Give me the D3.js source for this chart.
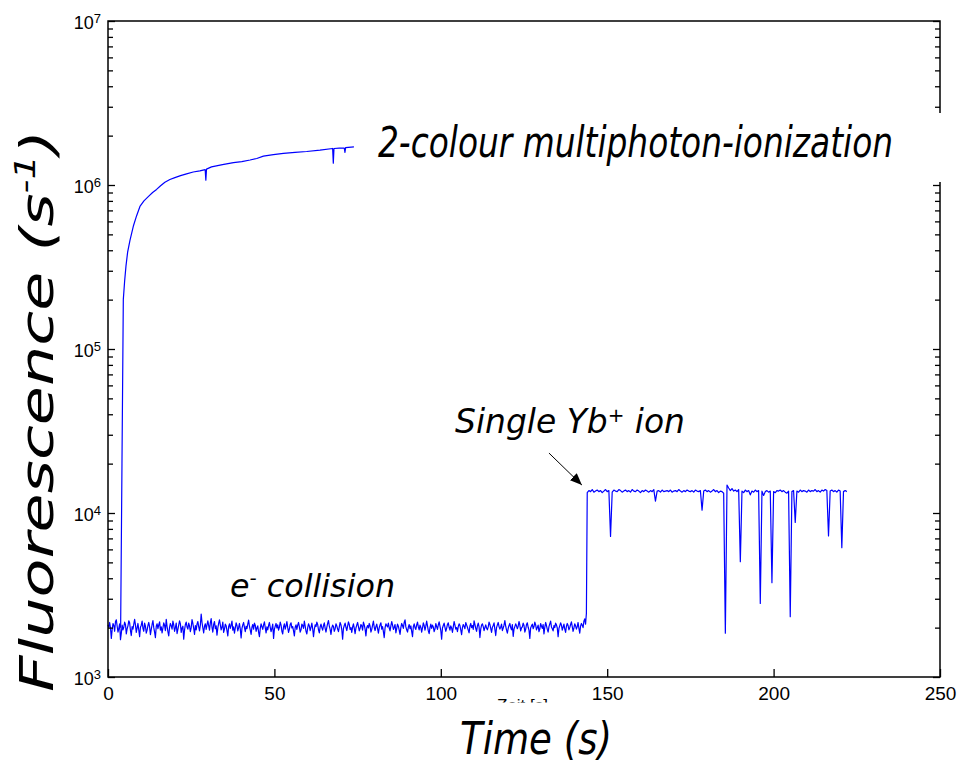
<!DOCTYPE html>
<html>
<head>
<meta charset="utf-8">
<script src="https://cdn.jsdelivr.net/npm/d3@7"></script>
<style>
  body { margin: 0; background: #fff; }
  svg { display: block; }
</style>
</head>
<body>
<script>
// ---- data ----
// photo-ionization trace (s, counts/s)
const mpiTime = [3.8, 4.2, 4.6, 5.0, 5.4, 5.9, 6.6, 7.6, 8.6, 9.6,
  10.8, 12.1, 13.4, 14.6, 15.8, 17.1, 18.6, 20.1, 21.8, 23.6,
  25.6, 27.6, 29.2, 29.4, 29.6, 31.1, 34.4, 37.7, 40.2, 42.7,
  44.7, 46.7, 49.7, 52.7, 56.2, 59.7, 63.7, 67.5, 67.7, 67.9,
  69.5, 71.0, 71.2, 71.4, 73.9];
const mpiRate = [2000, 20000, 200000, 260000, 320000, 390000, 460000, 560000, 650000, 740000,
  800000, 850000, 900000, 940000, 990000, 1040000, 1080000, 1110000, 1140000, 1170000,
  1200000, 1220000, 1240000, 1070000, 1250000, 1290000, 1330000, 1370000, 1390000, 1420000,
  1450000, 1500000, 1530000, 1560000, 1580000, 1600000, 1630000, 1670000, 1360000, 1670000,
  1680000, 1680000, 1580000, 1690000, 1710000];

// electron collision trace, sampled every 0.25 s from t = 0
const collisionStep = 0.25;
const collisionStart = 0;
const collisionRate = [
  2080, 2010, 2150, 1990, 1720, 1950, 2120, 2060, 1900, 2180, 2230, 2040,
  1880, 1980, 2110, 1690, 1850, 2070, 1940, 2010, 2160, 2090, 1830, 1970,
  2050, 2200, 2140, 1920, 1790, 2030, 1960, 2100, 2250, 2080, 1870, 1990,
  2120, 1940, 1760, 2010, 2070, 2190, 1980, 1900, 2130, 2040, 1850, 1930,
  2060, 2150, 2020, 1810, 1950, 2090, 2210, 2000, 1880, 1740, 2040, 2110,
  1970, 2080, 2170, 1930, 2020, 1860, 1990, 2140, 2060, 1920, 2250, 2030,
  1890, 1780, 2010, 2120, 2050, 1960, 2190, 2080, 1900, 2000, 2130, 1840,
  1950, 2070, 2200, 2110, 1870, 1990, 2040, 1700, 1930, 2090, 2160, 2020,
  1960, 2130, 2050, 1890, 2000, 2240, 2120, 1980, 1820, 2060, 1940, 2100,
  2180, 2030, 1910, 2070, 2420, 2150, 1990, 1860, 2040, 2110, 1950, 2080,
  2200, 2060, 1930, 2140, 2270, 2010, 1880, 2090, 2180, 1970, 2050, 1800,
  1990, 2120, 2230, 2080, 1940, 2010, 2160, 1870, 1960, 2100, 2050, 1920,
  1780, 2030, 2110, 1980, 2070, 2190, 1930, 2020, 1850, 1990, 2140, 2060,
  1910, 2000, 2120, 1960, 1730, 1980, 2080, 2150, 2010, 1890, 2040, 1970,
  2100, 2220, 2040, 1930, 1820, 2010, 2090, 1960, 2130, 2070, 1900, 1990,
  2050, 1880, 1760, 1970, 2110, 2030, 1950, 2080, 2170, 2000, 1860, 2020,
  1940, 2060, 2150, 2010, 1890, 1980, 2100, 1720, 1950, 2040, 2120, 1990,
  2080, 1930, 2010, 2160, 2070, 1900, 1830, 2020, 2110, 1960, 2050, 2180,
  2000, 1870, 1960, 2090, 2140, 1990, 2030, 1910, 1780, 2010, 2080, 1950,
  2070, 2150, 2020, 1880, 1940, 2100, 2060, 1980, 2190, 2040, 1900, 1830,
  1990, 2110, 2050, 1920, 2010, 2130, 1970, 1760, 1950, 2080, 2030, 2160,
  2090, 1940, 1860, 2020, 2100, 2000, 1930, 2060, 2140, 1980, 1880, 2010,
  2120, 2210, 2040, 1950, 1820, 1990, 2070, 2030, 1900, 1970, 2110, 2050,
  1960, 1890, 2020, 2150, 2080, 1940, 1700, 1980, 2060, 2130, 2010, 1920,
  2040, 2170, 2090, 1950, 2000, 1870, 2020, 2110, 1980, 1840, 1990, 2070,
  2150, 2030, 1910, 1980, 2090, 2050, 1930, 2160, 2080, 1960, 1780, 2000,
  2060, 1990, 2120, 2040, 1880, 1950, 2070, 2190, 2010, 1920, 2030, 2100,
  1970, 1850, 2000, 2080, 2140, 1960, 2030, 1890, 1740, 1990, 2110, 2060,
  2020, 2130, 1990, 1910, 2050, 2180, 2070, 1950, 2010, 2090, 1860, 1970,
  2100, 2040, 1930, 1820, 2000, 2120, 2060, 1980, 2150, 2230, 2020, 1940,
  1880, 2010, 2090, 1970, 2050, 1900, 1760, 2030, 2110, 2000, 1950, 2080,
  2160, 2020, 1940, 2070, 2010, 1880, 1990, 2140, 2060, 1930, 2040, 2190,
  2050, 1910, 1840, 2000, 2100, 1980, 2070, 2020, 1890, 1960, 2120, 2030,
  1950, 2080, 2170, 2040, 1920, 1700, 1990, 2060, 2130, 2010, 1900, 1980,
  2090, 2140, 2010, 1930, 2050, 1990, 1870, 2020, 2180, 2070, 1960, 2000,
  1890, 2030, 2110, 2060, 1940, 1810, 2000, 2090, 2040, 1970, 2150, 2080,
  2010, 1930, 1860, 2040, 2120, 2000, 2060, 1950, 2200, 2090, 1980, 1900,
  2050, 2130, 2020, 1740, 1960, 2070, 2110, 2030, 1920, 2000, 2080, 1990,
  1940, 2020, 2160, 2090, 1980, 1870, 2010, 2060, 2140, 1950, 1790, 2000,
  2080, 2150, 2030, 1960, 2010, 2100, 1920, 1990, 2070, 2210, 2040, 1930,
  1850, 1980, 2060, 2120, 2000, 1940, 2090, 1770, 1960, 2030, 2110, 2050,
  1970, 2040, 2180, 2070, 1910, 1990, 2020, 2130, 2060, 1880, 1950, 2090,
  2140, 2010, 1930, 1720, 1990, 2050, 2100, 1970, 2030, 2160, 2080, 1940,
  2000, 2070, 1890, 1960, 2120, 2040, 1980, 2090, 1830, 2010, 2150, 2060,
  1950, 1880, 2030, 2110, 2190, 2020, 1970, 1910, 2060, 2000, 2130, 2080,
  1990, 1760, 1980, 2050, 2140, 2070, 1930, 2010, 2100, 1960, 1870, 2040,
  2120, 2060, 1940, 2000, 2090, 2170, 2030, 1900, 1990, 2110, 2050, 1960,
  2030, 2150, 1980, 1850, 2040, 2120, 2070, 2000, 2190, 2260, 2100, 2450];

// single ion trace, sampled every 0.5 s from t = 144
const ionStep = 0.5;
const ionStart = 144;
const ionRate = [
  13300, 13700, 13500, 13900, 13400, 13600, 13800, 13500, 13700, 13300, 13600, 13900,
  13500, 13700, 7200, 13400, 13800, 13600, 13500, 13900, 13700, 13400, 13600, 13800,
  13500, 13700, 13400, 13900, 13600, 13500, 13800, 13600, 13300, 13700, 13500, 13800,
  13600, 13400, 13700, 13500, 13900, 11800, 13600, 13700, 13400, 13800, 13500, 13600,
  13700, 13500, 13800, 13400, 13600, 13700, 13500, 13900, 13600, 13400, 13700, 13500,
  13800, 13600, 13500, 13700, 13400, 13800, 13600, 13500, 13700, 10400, 13600, 13800,
  13500, 13700, 13400, 13600, 13900, 13500, 13700, 13300, 13600, 13500, 13200, 1850,
  14800, 14200, 13700, 14100, 13600, 13800, 13500, 13900, 5050, 13600, 13300, 13800,
  13500, 13700, 12900, 13600, 13400, 13800, 13500, 13700, 2810, 13600, 12800, 13500,
  13700, 13400, 13600, 3760, 13500, 13300, 13700, 13600, 13800, 13500, 13700, 13400,
  13200, 13600, 2330, 13500, 13700, 8770, 13600, 13400, 13800, 13500, 13700, 13600,
  13400, 13800, 13500, 13700, 13600, 13900, 13500, 13700, 13400, 13800, 13600, 13900,
  13700, 7250, 13600, 13800, 13500, 13700, 13400, 13800, 13600, 6140, 13500, 13700,
  13500];

// axes
const xDomain = [0, 250];
const yDomain = [1e3, 1e7];
const xTicks = [0, 50, 100, 150, 200, 250];
const yDecades = [1e3, 1e4, 1e5, 1e6, 1e7];
const yExponents = ["3", "4", "5", "6", "7"];

// arrow annotation, data coords [time, rate]
const arrowFrom = [132.5, 23200];
const arrowTo = [142.4, 14800];

// ---- drawing ----
const W = 971, H = 762;
const svg = d3.select("body").append("svg")
  .attr("width", W).attr("height", H)
  .attr("xmlns", "http://www.w3.org/2000/svg");
svg.append("rect").attr("width", W).attr("height", H).attr("fill", "#fff");

const x = d3.scaleLinear().domain(xDomain).range([108, 940]);
const y = d3.scaleLog().domain(yDomain).range([677, 21]);

// minor log ticks 2..9 per decade
const yMinor = y.ticks().filter(v => yDecades.indexOf(v) < 0);

const line = d3.line().x(d => x(d[0])).y(d => y(d[1]));

// traces
const mpiData = mpiTime.map((t, i) => [t, mpiRate[i]]);
const signalData = collisionRate.map((v, i) => [collisionStart + i * collisionStep, v])
  .concat(ionRate.map((v, i) => [ionStart + i * ionStep, v]));

svg.append("path").datum(signalData)
  .attr("d", line).attr("fill", "none")
  .attr("stroke", "#0000ff").attr("stroke-width", 1.2)
  .attr("stroke-linejoin", "round");
svg.append("path").datum(mpiData)
  .attr("d", line).attr("fill", "none")
  .attr("stroke", "#0000ff").attr("stroke-width", 1.2)
  .attr("stroke-linejoin", "round");

// frame
svg.append("rect")
  .attr("x", x(0)).attr("y", y(1e7))
  .attr("width", x(250) - x(0)).attr("height", y(1e3) - y(1e7))
  .attr("fill", "none").attr("stroke", "#000").attr("stroke-width", 1.5);

function tickAxis(axis, tx, ty) {
  const g = svg.append("g").attr("transform", `translate(${tx},${ty})`).call(axis);
  g.select(".domain").remove();
  g.selectAll("line").attr("stroke", "#000").attr("stroke-width", 1.3);
  return g;
}
// left (inward ticks)
tickAxis(d3.axisRight(y).tickValues(yMinor).tickSize(5).tickFormat(""), x(0), 0);
tickAxis(d3.axisRight(y).tickValues(yDecades).tickSize(7).tickFormat(""), x(0), 0);
// right
tickAxis(d3.axisLeft(y).tickValues(yMinor).tickSize(5).tickFormat(""), x(250), 0);
tickAxis(d3.axisLeft(y).tickValues(yDecades).tickSize(7).tickFormat(""), x(250), 0);
// bottom
tickAxis(d3.axisTop(x).tickValues(xTicks).tickSize(8).tickFormat(""), 0, y(1e3));

// x tick labels
const xl = svg.append("g").attr("transform", `translate(0,${y(1e3)})`)
  .call(d3.axisBottom(x).tickValues(xTicks).tickSize(0).tickPadding(10).tickFormat(d3.format("d")));
xl.select(".domain").remove();
xl.selectAll("text").attr("font-family", "Liberation Sans, Arial, sans-serif")
  .attr("font-size", 19).attr("fill", "#000");

// y tick labels 10^n
const yl = svg.append("g").attr("transform", `translate(${x(0)},0)`)
  .call(d3.axisLeft(y).tickValues(yDecades).tickSize(0).tickPadding(7).tickFormat(""));
yl.select(".domain").remove();
yl.selectAll(".tick text").each(function (d, i) {
  const t = d3.select(this)
    .attr("font-family", "Liberation Sans, Arial, sans-serif")
    .attr("font-size", 18).attr("fill", "#000").attr("dy", "0.4em");
  t.append("tspan").text("10");
  t.append("tspan").attr("font-size", 13).attr("dy", -6).text(yExponents[i]);
});

// white patch behind the upper label (cuts the right axis)
svg.append("rect").attr("x", 372).attr("y", 113).attr("width", 580).attr("height", 69).attr("fill", "#fff");

// remnant of an older axis title, mostly hidden
const clip = svg.append("clipPath").attr("id", "zeitClip");
clip.append("rect").attr("x", 480).attr("y", 690).attr("width", 90).attr("height", 12.5);
svg.append("text").attr("clip-path", "url(#zeitClip)")
  .attr("x", 497).attr("y", 711)
  .attr("font-family", "Liberation Sans, Arial, sans-serif").attr("font-size", 17)
  .text("Zeit [s]");

// annotations
const italic = "DejaVu Sans, Verdana, sans-serif";
function label(txt, px, py, size, len) {
  return svg.append("text").attr("x", px).attr("y", py)
    .attr("font-family", italic).attr("font-style", "italic")
    .attr("font-size", size).attr("fill", "#000")
    .attr("textLength", len).attr("lengthAdjust", "spacingAndGlyphs")
    .text(txt);
}
label("2-colour multiphoton-ionization", 378, 157, 42, 515);

const yb = label("Single Yb", 455, 433, 33, 230);
yb.append("tspan").attr("font-size", 20).attr("dy", -11).text("+");
yb.append("tspan").attr("dy", 11).text(" ion");

const ec = label("e", 230, 597, 32, 165);
ec.append("tspan").attr("font-size", 20).attr("dy", -12).text("-");
ec.append("tspan").attr("dy", 12).text(" collision");

// arrow
svg.append("defs").append("marker")
  .attr("id", "head").attr("viewBox", "0 0 12 10")
  .attr("refX", 12).attr("refY", 5)
  .attr("markerWidth", 12).attr("markerHeight", 10)
  .attr("markerUnits", "userSpaceOnUse").attr("orient", "auto")
  .append("path").attr("d", "M0,0 L12,5 L0,10 Z").attr("fill", "#000");
svg.append("line")
  .attr("x1", x(arrowFrom[0])).attr("y1", y(arrowFrom[1]))
  .attr("x2", x(arrowTo[0])).attr("y2", y(arrowTo[1]))
  .attr("stroke", "#000").attr("stroke-width", 1)
  .attr("marker-end", "url(#head)");

// axis titles
svg.append("text")
  .attr("x", 460).attr("y", 754)
  .attr("font-family", italic).attr("font-style", "italic").attr("font-size", 45)
  .attr("textLength", 152).attr("lengthAdjust", "spacingAndGlyphs")
  .text("Time (s)");

const yt = svg.append("text")
  .attr("transform", "translate(53,692) rotate(-90)")
  .attr("font-family", italic).attr("font-style", "italic").attr("font-size", 46)
  .attr("textLength", 562).attr("lengthAdjust", "spacingAndGlyphs")
  .text("Fluorescence  (s");
yt.append("tspan").attr("font-size", 28).attr("dy", -18).text("-1");
yt.append("tspan").attr("dy", 18).text(")");
</script>
</body>
</html>
